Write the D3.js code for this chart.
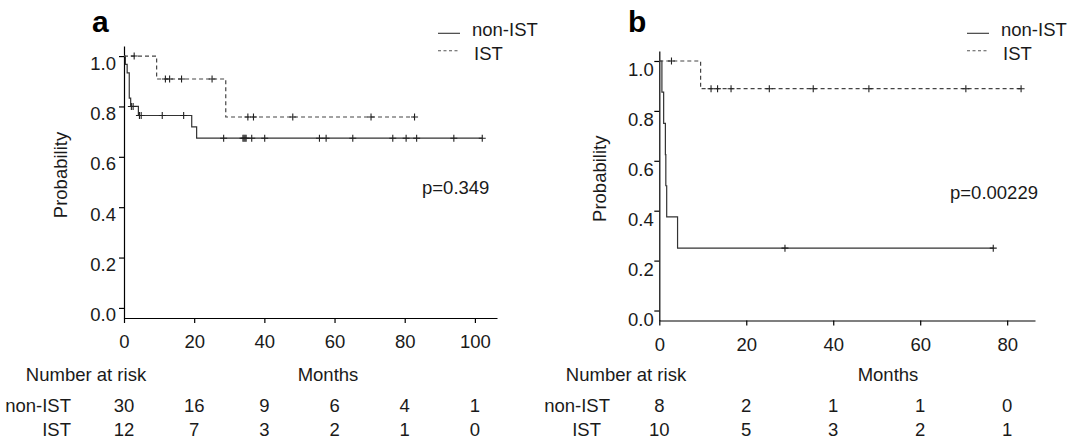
<!DOCTYPE html>
<html>
<head>
<meta charset="utf-8">
<script src="https://cdn.jsdelivr.net/npm/d3@7"></script>
<style>
  body { margin: 0; background: #fff; }
  svg { display: block; font-family: "Liberation Sans", Arial, sans-serif; }
</style>
</head>
<body>
<script>
// ---- data ----
const probTicks = [0, 0.2, 0.4, 0.6, 0.8, 1.0];
const monthTicksA = [0, 20, 40, 60, 80, 100];
const monthTicksB = [0, 20, 40, 60, 80];
const groups = ["non-IST", "IST"];

// panel a: Kaplan-Meier steps (time in months, survival)
const nonIstTimesA = [0, 0.4, 0.9, 1.5, 1.9, 4.1, 19.3, 20.7];
const nonIstSurvA = [1, 0.967, 0.933, 0.833, 0.8, 0.764, 0.719, 0.674];
const nonIstCensorA = [2.1, 2.6, 4.4, 4.9, 10.9, 17.0, 28.4, 33.9, 34.2, 34.5, 34.8, 36.4,
  40.1, 55.7, 57.6, 65.2, 76.6, 80.4, 83.4, 94.0, 102.1];
const istTimesA = [0, 9.3, 29.0];
const istSurvA = [1, 0.909, 0.758];
const istCensorA = [2.9, 11.8, 13.0, 16.4, 25.1, 35.3, 36.9, 48.1, 70.4, 82.8];
const riskNonIstA = [30, 16, 9, 6, 4, 1];
const riskIstA = [12, 7, 3, 2, 1, 0];

// panel b
const nonIstTimesB = [0, 0.6, 1.0, 1.4, 1.5, 1.7, 4.2];
const nonIstSurvB = [1, 0.875, 0.75, 0.625, 0.5, 0.375, 0.25];
const nonIstCensorB = [28.9, 76.8];
const istTimesB = [0, 9.5];
const istSurvB = [1, 0.889];
const istCensorB = [2.8, 11.9, 13.4, 16.5, 25.3, 35.4, 48.2, 70.5, 83.2];
const riskNonIstB = [8, 2, 1, 1, 0];
const riskIstB = [10, 5, 3, 2, 1];

const FONT = 18.5;
const svg = d3.select("body").append("svg").attr("width", 1071).attr("height", 441);

function drawPanel(cfg) {
  const g = svg.append("g");
  const x = d3.scaleLinear().domain([0, cfg.xMax]).range([cfg.left, cfg.right]);
  const y = d3.scaleLinear().domain([-0.04, 1.04]).range([cfg.bottom, cfg.top]);

  // axes
  const yAxis = g.append("g")
    .attr("transform", `translate(${cfg.left},0)`)
    .call(d3.axisLeft(y).tickValues(probTicks).tickSize(5).tickSizeOuter(0)
      .tickPadding(cfg.yPad).tickFormat(d3.format(".1f")));
  yAxis.selectAll("text").attr("dy", cfg.yDy).attr("font-size", FONT)
    .attr("font-family", "Liberation Sans, Arial, sans-serif").attr("fill", "#1a1a1a");

  const xAxis = g.append("g")
    .attr("transform", `translate(0,${cfg.bottom})`)
    .call(d3.axisBottom(x).tickValues(cfg.monthTicks).tickSize(5).tickSizeOuter(0).tickPadding(12));
  xAxis.selectAll("text").attr("font-size", FONT)
    .attr("font-family", "Liberation Sans, Arial, sans-serif").attr("fill", "#1a1a1a");
  g.selectAll(".domain, .tick line").attr("stroke", "#000").attr("stroke-width", 1.2);

  // curves
  const line = d3.line().x(d => x(d[0])).y(d => y(d[1])).curve(d3.curveStepAfter);
  cfg.series.forEach(s => {
    const end = d3.max(s.censor);
    const pts = s.times.map((t, i) => [t, s.surv[i]]);
    pts.push([end, s.surv[s.surv.length - 1]]);
    g.append("path").attr("d", line(pts)).attr("fill", "none")
      .attr("stroke", s.dashed ? "#444" : "#333").attr("stroke-width", 1.2)
      .attr("stroke-dasharray", s.dashed ? "4,3" : null);

    const survAt = t => s.surv[d3.bisectRight(s.times, t) - 1];
    g.selectAll(null).data(s.censor).enter().append("path")
      .attr("d", d => {
        const cx = x(d), cy = y(survAt(d));
        return `M${cx - 3.5},${cy}H${cx + 3.5}M${cx},${cy - 3.5}V${cy + 3.5}`;
      })
      .attr("stroke", "#222").attr("stroke-width", 1.1);
  });

  // panel letter
  g.append("text").attr("x", cfg.letterX).attr("y", 31.5).attr("font-size", 30)
    .attr("font-weight", "bold").attr("fill", "#000").text(cfg.letter);

  // y label
  g.append("text")
    .attr("transform", `translate(${cfg.ylabX},${(y(0) + y(1)) / 2 - 7}) rotate(-90)`)
    .attr("text-anchor", "middle").attr("font-size", FONT).attr("fill", "#1a1a1a")
    .text("Probability");

  // p value
  g.append("text").attr("x", cfg.pX).attr("y", cfg.pY).attr("font-size", FONT)
    .attr("fill", "#1a1a1a").text(cfg.pText);

  // legend
  const leg = g.append("g");
  groups.forEach((name, i) => {
    const ly = 33.3 + i * 17.4;
    leg.append("line").attr("x1", cfg.legX).attr("x2", cfg.legX + 22)
      .attr("y1", ly).attr("y2", ly)
      .attr("stroke", i === 0 ? "#333" : "#555").attr("stroke-width", 1.1)
      .attr("stroke-dasharray", i === 0 ? null : "3,2.5");
    leg.append("text").attr("x", cfg.legX + 34 + i * 2).attr("y", 36 + i * 24)
      .attr("font-size", FONT).attr("fill", "#1a1a1a").text(name);
  });

  // number at risk table
  g.append("text").attr("x", cfg.narX).attr("y", 381).attr("text-anchor", "middle")
    .attr("font-size", FONT).attr("fill", "#1a1a1a").text("Number at risk");
  g.append("text").attr("x", cfg.monthsX).attr("y", 381).attr("text-anchor", "middle")
    .attr("font-size", FONT).attr("fill", "#1a1a1a").text("Months");
  const rows = [cfg.riskNonIst, cfg.riskIst];
  const rowY = [412, 436];
  rows.forEach((vals, r) => {
    g.append("text").attr("x", cfg.rowLabX[r]).attr("y", rowY[r]).attr("text-anchor", "end")
      .attr("font-size", FONT).attr("fill", "#1a1a1a").text(groups[r]);
    g.selectAll(null).data(vals).enter().append("text")
      .attr("x", (d, i) => x(cfg.monthTicks[i]))
      .attr("y", rowY[r]).attr("text-anchor", "middle")
      .attr("font-size", FONT).attr("fill", "#1a1a1a").text(d => d);
  });
}

drawPanel({
  letter: "a", letterX: 92,
  left: 124, right: 497, top: 46, bottom: 318, xMax: 106.3,
  monthTicks: monthTicksA, yPad: 3, yDy: "0.7em",
  ylabX: 67, pX: 422, pY: 194, pText: "p=0.349",
  legX: 438, narX: 86, monthsX: 328, rowLabX: [71, 71],
  riskNonIst: riskNonIstA, riskIst: riskIstA,
  series: [
    { times: nonIstTimesA, surv: nonIstSurvA, censor: nonIstCensorA, dashed: false },
    { times: istTimesA, surv: istSurvA, censor: istCensorA, dashed: true }
  ]
});

drawPanel({
  letter: "b", letterX: 628,
  left: 659.3, right: 1035, top: 51, bottom: 320.5, xMax: 86.4,
  monthTicks: monthTicksB, yPad: 0.5, yDy: "0.8em",
  ylabX: 606, pX: 950, pY: 199, pText: "p=0.00229",
  legX: 967, narX: 626, monthsX: 888, rowLabX: [610, 601],
  riskNonIst: riskNonIstB, riskIst: riskIstB,
  series: [
    { times: nonIstTimesB, surv: nonIstSurvB, censor: nonIstCensorB, dashed: false },
    { times: istTimesB, surv: istSurvB, censor: istCensorB, dashed: true }
  ]
});
</script>
</body>
</html>
